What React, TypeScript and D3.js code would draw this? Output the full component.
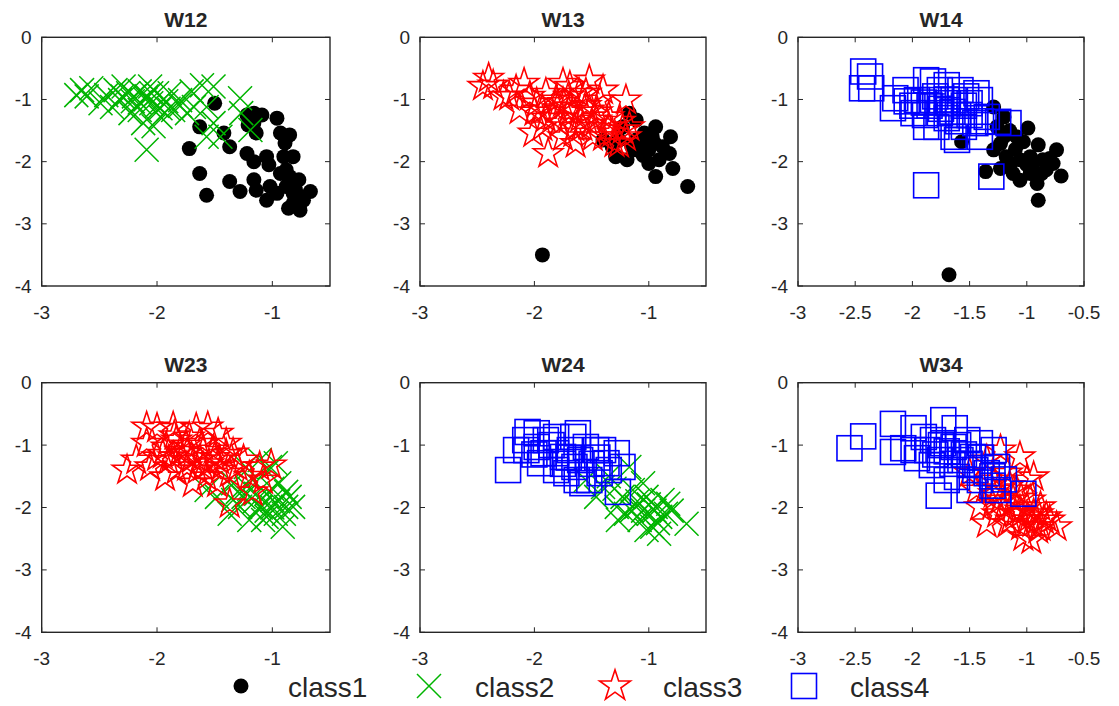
import React from "react";
import * as d3 from "d3";

type Pt = [number, number];

// ---- data ----
const w12Class1: Pt[] = [
  [-1.5, -1.06], [-1.63, -1.44], [-1.72, -1.79], [-1.63, -2.19], [-1.57, -2.54], [-1.42, -1.54],
  [-1.37, -1.76], [-1.37, -2.32], [-1.28, -2.48], [-1.22, -1.25], [-1.21, -1.41], [-1.16, -1.22],
  [-1.09, -1.25], [-1.14, -1.54], [-1.22, -1.87], [-1.16, -2.0], [-1.16, -2.29], [-1.14, -2.46],
  [-1.05, -1.92], [-1.03, -2.05], [-1.05, -2.62], [-0.96, -1.3], [-0.93, -1.54], [-0.85, -1.57],
  [-0.82, -1.92], [-0.9, -1.92], [-0.88, -2.13], [-0.85, -2.24], [-0.77, -2.29], [-0.88, -2.4],
  [-0.82, -2.51], [-0.76, -2.56], [-0.67, -2.48], [-0.73, -2.62], [-0.86, -2.75], [-0.76, -2.78],
  [-0.96, -2.51], [-0.82, -2.67], [-0.93, -2.19], [-0.89, -1.7], [-1.02, -2.4], [-1.16, -1.38],
  [-0.85, -2.3], [-0.8, -2.45], [-0.78, -2.6],
];
const w12Class2: Pt[] = [
  [-2.65, -0.85], [-2.7, -0.93], [-2.57, -0.82], [-2.61, -0.95], [-2.44, -0.93], [-2.36, -0.85],
  [-2.32, -1.01], [-2.25, -0.9], [-2.21, -1.03], [-2.15, -0.87], [-2.15, -1.17], [-2.09, -0.95],
  [-2.05, -1.06], [-2.0, -0.9], [-2.12, -1.38], [-2.09, -1.81], [-1.97, -1.14], [-1.92, -1.03],
  [-1.86, -1.17], [-1.8, -1.01], [-1.7, -0.87], [-1.61, -0.77], [-1.51, -0.79], [-1.57, -1.12],
  [-1.51, -1.38], [-1.57, -1.6], [-1.45, -1.6], [-1.28, -0.98], [-1.27, -1.22], [-1.19, -1.49],
  [-2.23, -1.22], [-2.39, -1.12], [-1.97, -1.28], [-1.74, -1.22], [-2.29, -0.79], [-2.06, -0.79],
  [-2.49, -1.06], [-1.89, -0.9], [-2.03, -1.43], [-1.68, -1.12],
  [-2.2, -0.95], [-2.1, -1.0], [-2.0, -1.1], [-2.3, -0.95], [-1.9, -1.15], [-2.15, -1.05],
  [-1.8, -1.1], [-2.05, -0.9],
];
const w13Class1: Pt[] = [
  [-1.93, -3.5], [-0.66, -2.4], [-0.94, -2.24], [-0.79, -2.11], [-0.82, -1.87], [-0.81, -1.6],
  [-0.94, -1.44], [-0.88, -1.76], [-1.0, -2.03], [-1.06, -1.71], [-0.97, -1.6], [-1.11, -1.33],
  [-1.17, -1.22], [-1.23, -1.44], [-1.29, -1.92], [-1.19, -1.97], [-1.11, -1.81], [-1.26, -1.65],
  [-1.32, -1.76], [-0.91, -1.97], [-1.04, -1.54], [-1.11, -1.65], [-1.0, -1.81], [-1.4, -1.65],
  [-1.05, -1.9], [-0.95, -1.7], [-1.15, -1.75],
];
const w13Class3: Pt[] = [
  [-2.4, -0.66], [-2.45, -0.79], [-2.36, -0.77], [-2.27, -0.95], [-2.16, -0.85], [-2.09, -0.74],
  [-2.04, -0.95], [-1.98, -1.06], [-1.93, -1.17], [-2.01, -1.54], [-1.88, -1.87], [-1.9, -0.9],
  [-1.81, -1.01], [-1.75, -0.74], [-1.69, -1.12], [-1.78, -1.38], [-1.66, -1.54], [-1.61, -0.9],
  [-1.52, -0.69], [-1.43, -1.01], [-1.52, -1.17], [-1.58, -1.44], [-1.46, -1.33], [-1.4, -1.6],
  [-1.35, -1.28], [-1.2, -1.01], [-1.23, -1.49], [-1.17, -1.44], [-1.26, -1.71], [-1.64, -1.71],
  [-1.75, -1.6], [-1.84, -1.28], [-2.13, -1.17], [-2.22, -0.95], [-1.4, -0.85], [-1.93, -1.44],
  [-1.49, -1.6], [-1.69, -0.79], [-1.32, -1.54],
  [-1.7, -1.2], [-1.6, -1.3], [-1.55, -1.1], [-1.75, -1.05], [-1.65, -1.45], [-1.5, -1.4],
  [-1.8, -1.15], [-1.45, -1.2], [-1.35, -1.45], [-1.25, -1.35], [-1.9, -1.3], [-2.0, -1.2],
  [-1.7, -0.95], [-1.55, -0.9], [-1.3, -1.7], [-1.2, -1.6],
];
const w14Class1: Pt[] = [
  [-1.68, -3.82], [-0.9, -2.62], [-0.7, -2.23], [-0.74, -1.81], [-0.77, -2.03], [-0.87, -2.19],
  [-0.91, -2.35], [-0.99, -1.46], [-0.9, -1.73], [-1.06, -2.3], [-1.06, -1.97], [-1.18, -1.92],
  [-1.23, -1.71], [-1.26, -1.44], [-1.29, -1.12], [-1.2, -1.28], [-1.15, -2.08], [-1.23, -2.11],
  [-1.36, -2.16], [-1.57, -1.68], [-1.03, -1.68], [-0.97, -1.92], [-0.86, -1.97], [-1.09, -1.6],
  [-1.29, -1.81], [-1.12, -2.19], [-0.97, -2.19], [-0.83, -2.13],
  [-1.15, -1.5], [-1.1, -1.8], [-1.0, -2.05], [-0.95, -2.1], [-1.2, -1.6], [-0.8, -1.95],
];
const w14Class4: Pt[] = [
  [-2.43, -0.55], [-2.37, -0.63], [-2.44, -0.82], [-2.36, -0.82], [-2.15, -0.98], [-2.06, -0.85],
  [-2.05, -1.03], [-1.96, -1.01], [-1.89, -1.25], [-1.88, -0.69], [-1.82, -0.71], [-1.88, -1.44],
  [-1.79, -1.44], [-1.76, -0.85], [-1.7, -0.77], [-1.69, -1.06], [-1.64, -1.6], [-1.61, -1.65],
  [-1.58, -0.85], [-1.53, -0.95], [-1.6, -1.25], [-1.5, -1.06], [-1.44, -0.9], [-1.45, -1.38],
  [-1.41, -1.6], [-1.35, -1.28], [-1.25, -1.36], [-1.16, -1.38], [-1.31, -2.24], [-1.88, -2.38],
  [-2.17, -1.14], [-1.76, -1.22], [-1.64, -1.01], [-1.99, -1.22], [-1.82, -1.01], [-1.55, -1.44],
  [-1.41, -1.01],
  [-1.85, -1.1], [-1.75, -1.15], [-1.7, -1.3], [-1.8, -0.95], [-1.9, -1.05], [-1.65, -1.2],
  [-1.55, -1.1], [-1.5, -1.25], [-1.4, -1.35], [-1.6, -1.35], [-2.0, -1.1], [-1.7, -1.0],
];
const w23Class2: Pt[] = [
  [-1.57, -1.72], [-1.48, -1.83], [-1.34, -1.61], [-1.28, -1.99], [-1.2, -2.2], [-1.11, -1.99],
  [-1.05, -1.78], [-1.02, -1.35], [-0.97, -1.29], [-1.05, -2.15], [-0.97, -2.1], [-0.91, -2.31],
  [-0.85, -1.83], [-0.88, -1.99], [-1.14, -1.78], [-1.17, -1.56], [-1.25, -1.83], [-1.37, -2.1],
  [-1.11, -1.24], [-0.94, -1.61], [-1.0, -1.88], [-1.08, -2.2], [-1.23, -1.35], [-0.82, -1.99],
  [-1.34, -1.88],
  [-1.1, -2.0], [-1.0, -2.0], [-0.95, -1.9], [-1.15, -1.9], [-1.05, -2.05], [-0.9, -2.1],
  [-1.2, -1.7], [-1.3, -1.75], [-0.88, -1.75], [-1.0, -1.7],
];
const w23Class3: Pt[] = [
  [-2.09, -0.71], [-2.0, -0.73], [-1.86, -0.71], [-1.66, -0.73], [-1.56, -0.71], [-1.47, -0.81],
  [-2.26, -1.4], [-2.18, -1.24], [-2.09, -0.97], [-2.0, -1.19], [-1.92, -1.03], [-1.93, -1.51],
  [-1.83, -0.92], [-1.83, -1.4], [-1.74, -1.13], [-1.69, -1.61], [-1.63, -0.97], [-1.6, -1.35],
  [-1.51, -1.08], [-1.46, -1.24], [-1.4, -0.97], [-1.37, -1.45], [-1.34, -1.13], [-1.25, -1.24],
  [-1.11, -1.35], [-1.01, -1.32], [-1.17, -1.75], [-1.37, -1.94], [-1.08, -1.56], [-1.48, -1.61],
  [-1.74, -1.35], [-2.06, -1.35], [-1.57, -1.51], [-1.72, -0.87], [-1.86, -1.19], [-1.63, -1.24],
  [-1.8, -1.1], [-1.7, -1.2], [-1.6, -1.1], [-1.55, -1.3], [-1.65, -1.4], [-1.75, -1.0],
  [-1.5, -1.2], [-1.45, -1.4], [-1.9, -1.25], [-1.85, -0.85], [-1.4, -1.15], [-1.3, -1.35],
  [-1.2, -1.5], [-1.95, -1.15],
];
const w24Class2: Pt[] = [
  [-1.55, -1.56], [-1.4, -1.67], [-1.28, -1.99], [-1.27, -2.2], [-1.17, -1.35], [-1.14, -1.72],
  [-1.11, -1.99], [-1.08, -2.2], [-1.02, -1.83], [-1.0, -2.1], [-0.97, -2.31], [-0.94, -1.99],
  [-0.88, -1.88], [-0.85, -2.1], [-0.67, -2.26], [-0.91, -2.42], [-1.02, -2.36], [-1.23, -1.83],
  [-1.46, -1.83], [-1.05, -1.61], [-0.83, -1.94], [-1.2, -2.1],
  [-1.0, -1.95], [-0.95, -2.05], [-1.1, -1.9], [-0.9, -2.15], [-1.05, -2.05], [-0.8, -2.05],
  [-1.15, -2.05], [-0.92, -2.25], [-1.3, -1.7], [-1.35, -1.5],
];
const w24Class4: Pt[] = [
  [-2.23, -1.4], [-2.06, -0.79], [-2.08, -0.92], [-2.07, -1.08], [-1.98, -1.03], [-1.95, -1.29],
  [-1.9, -0.92], [-1.81, -0.87], [-1.81, -1.13], [-1.81, -1.4], [-1.72, -1.45], [-1.69, -1.08],
  [-1.66, -0.87], [-1.62, -0.81], [-1.63, -1.56], [-1.58, -1.61], [-1.55, -1.03], [-1.52, -1.56],
  [-1.46, -1.08], [-1.43, -1.45], [-1.37, -1.29], [-1.28, -1.13], [-1.27, -1.75], [-1.23, -1.35],
  [-1.92, -1.13], [-1.75, -1.19], [-1.6, -1.24], [-2.16, -1.08], [-1.98, -0.81], [-1.4, -1.08],
  [-1.7, -1.2], [-1.5, -1.3], [-1.85, -1.0], [-2.0, -1.15], [-1.65, -1.35], [-1.45, -1.2],
  [-1.35, -1.4], [-1.75, -1.3],
];
const w34Class3: Pt[] = [
  [-1.35, -1.24], [-1.23, -1.08], [-1.06, -1.19], [-1.0, -1.56], [-0.94, -1.51], [-1.35, -2.26],
  [-1.17, -2.26], [-1.03, -2.47], [-0.96, -2.52], [-0.88, -2.31], [-0.74, -2.31], [-0.83, -2.15],
  [-0.94, -2.1], [-1.06, -2.04], [-1.12, -1.88], [-1.23, -1.88], [-1.26, -2.1], [-1.14, -2.2],
  [-0.97, -1.88], [-1.44, -1.72], [-1.5, -1.45], [-1.29, -1.56], [-1.17, -1.45], [-1.09, -1.72],
  [-0.88, -1.99], [-1.29, -1.78], [-1.0, -2.2], [-1.41, -1.99],
  [-1.05, -2.1], [-1.0, -2.0], [-0.95, -2.25], [-1.1, -2.1], [-0.9, -2.1], [-1.2, -2.0],
  [-0.85, -2.2], [-1.15, -1.65], [-1.25, -1.7], [-1.05, -1.85], [-0.9, -2.35], [-1.3, -1.95],
  [-1.05, -2.3], [-0.8, -2.2],
];
const w34Class4: Pt[] = [
  [-2.55, -1.05], [-2.43, -0.86], [-2.17, -0.66], [-2.17, -1.11], [-2.08, -1.05], [-1.99, -0.73],
  [-1.96, -1.21], [-1.9, -0.87], [-1.87, -1.08], [-1.83, -1.32], [-1.77, -1.81], [-1.73, -0.6],
  [-1.63, -0.73], [-1.73, -0.97], [-1.64, -1.03], [-1.7, -1.56], [-1.61, -1.51], [-1.52, -0.92],
  [-1.47, -1.19], [-1.5, -1.72], [-1.41, -0.97], [-1.41, -1.56], [-1.29, -1.08], [-1.25, -1.72],
  [-1.26, -1.35], [-1.03, -1.78], [-1.82, -0.92], [-1.76, -1.24], [-1.58, -1.24], [-1.35, -1.45],
  [-1.99, -1.08],
  [-1.7, -1.1], [-1.6, -1.0], [-1.55, -1.15], [-1.75, -1.0], [-1.65, -1.3], [-1.5, -1.3],
  [-1.45, -1.4], [-1.8, -1.15], [-1.4, -1.2], [-1.3, -1.5], [-1.2, -1.55], [-1.3, -1.65],
];

const panelTitles = ["W12", "W13", "W14", "W23", "W24", "W34"];
const classNames = ["class1", "class2", "class3", "class4"];
const classColors = ["#000000", "#00b400", "#ff0000", "#0000ff"];
const xTicksCoarse = [-3, -2, -1];
const xTicksFine = [-3, -2.5, -2, -1.5, -1, -0.5];
const yTicks = [0, -1, -2, -3, -4];
const xDomain: [number, number] = [-3, -0.5];
const yDomain: [number, number] = [-4, 0];

// panel -> list of [classIndex, points]
const panelSeries: [number, Pt[]][][] = [
  [[0, w12Class1], [1, w12Class2]],
  [[0, w13Class1], [2, w13Class3]],
  [[0, w14Class1], [3, w14Class4]],
  [[1, w23Class2], [2, w23Class3]],
  [[1, w24Class2], [3, w24Class4]],
  [[2, w34Class3], [3, w34Class4]],
];
const panelXTicks = [xTicksCoarse, xTicksCoarse, xTicksFine, xTicksCoarse, xTicksCoarse, xTicksFine];

// ---- layout ----
const colBounds: [number, number][] = [[41.7, 330], [420, 706], [798, 1084]];
const rowBounds: [number, number][] = [[37.3, 286], [382.7, 632.3]];
const AXIS = "#262626";
const FONT = "'Liberation Sans', Arial, Helvetica, sans-serif";

function starPath(R: number) {
  const r = R * 0.382;
  const pts: string[] = [];
  for (let i = 0; i < 10; i++) {
    const rad = i % 2 === 0 ? R : r;
    const a = -Math.PI / 2 + (i * Math.PI) / 5;
    pts.push(`${(rad * Math.cos(a)).toFixed(2)},${(rad * Math.sin(a)).toFixed(2)}`);
  }
  return "M" + pts.join("L") + "Z";
}

function Marker({ cls, x, y, scale = 1 }: { cls: number; x: number; y: number; scale?: number }) {
  const c = classColors[cls];
  if (cls === 0) return <circle cx={x} cy={y} r={7.5 * scale} fill={c} />;
  if (cls === 1) {
    const h = 12 * scale;
    return (
      <path
        d={`M${x - h},${y - h}L${x + h},${y + h}M${x - h},${y + h}L${x + h},${y - h}`}
        stroke={c}
        strokeWidth={1.5}
        fill="none"
      />
    );
  }
  if (cls === 2)
    return <path d={starPath(15.5 * scale)} transform={`translate(${x},${y})`} stroke={c} strokeWidth={1.6} fill="none" />;
  const s = 12.5 * scale;
  return <rect x={x - s} y={y - s} width={2 * s} height={2 * s} stroke={c} strokeWidth={1.6} fill="none" />;
}

function Panel({ idx }: { idx: number }) {
  const [l, r] = colBounds[idx % 3];
  const [t, b] = rowBounds[Math.floor(idx / 3)];
  const x = d3.scaleLinear().domain(xDomain).range([l, r]);
  const y = d3.scaleLinear().domain(yDomain).range([b, t]);
  const tl = 5;
  const clipId = `clip${idx}`;
  return (
    <g>
      <defs>
        <clipPath id={clipId}>
          <rect x={l} y={t} width={r - l} height={b - t} />
        </clipPath>
      </defs>
      <rect x={l} y={t} width={r - l} height={b - t} fill="#fff" />
      <g clipPath={`url(#${clipId})`}>
        {panelSeries[idx].map(([cls, pts], si) => (
          <g key={si}>
            {pts.map((p, i) => (
              <Marker key={i} cls={cls} x={x(p[0])} y={y(p[1])} />
            ))}
          </g>
        ))}
      </g>
      {panelXTicks[idx].map((v) => (
        <g key={"xt" + v}>
          <line x1={x(v)} x2={x(v)} y1={b} y2={b - tl} stroke={AXIS} strokeWidth={1} />
          <line x1={x(v)} x2={x(v)} y1={t} y2={t + tl} stroke={AXIS} strokeWidth={1} />
          <text x={x(v)} y={b + 33} textAnchor="middle" fontSize={19} fontFamily={FONT} fill={AXIS}>
            {String(v)}
          </text>
        </g>
      ))}
      {yTicks.map((v) => (
        <g key={"yt" + v}>
          <line x1={l} x2={l + tl} y1={y(v)} y2={y(v)} stroke={AXIS} strokeWidth={1} />
          <line x1={r} x2={r - tl} y1={y(v)} y2={y(v)} stroke={AXIS} strokeWidth={1} />
          <text x={l - 10} y={y(v) + 6.5} textAnchor="end" fontSize={19} fontFamily={FONT} fill={AXIS}>
            {String(v)}
          </text>
        </g>
      ))}
      <rect x={l} y={t} width={r - l} height={b - t} fill="none" stroke={AXIS} strokeWidth={1.4} />
      <text
        x={(l + r) / 2}
        y={t - 10.5}
        textAnchor="middle"
        fontSize={21}
        fontWeight="bold"
        fontFamily={FONT}
        fill={AXIS}
      >
        {panelTitles[idx]}
      </text>
    </g>
  );
}

const legendMarkerX = [241, 429, 615, 804];
const legendTextX = [288, 475, 663, 850];

export default function App() {
  return (
    <svg
      width={1119}
      height={706}
      style={{ position: "absolute", left: 0, top: 0, background: "#fff" }}
    >
      <rect width={1119} height={706} fill="#fff" />
      {panelTitles.map((_, i) => (
        <Panel key={i} idx={i} />
      ))}
      {classNames.map((name, i) => (
        <g key={name}>
          <Marker cls={i} x={legendMarkerX[i]} y={686} scale={i === 2 ? 1.05 : 1} />
          <text x={legendTextX[i]} y={697} fontSize={28} fontFamily={FONT} fill={AXIS}>
            {name}
          </text>
        </g>
      ))}
    </svg>
  );
}
